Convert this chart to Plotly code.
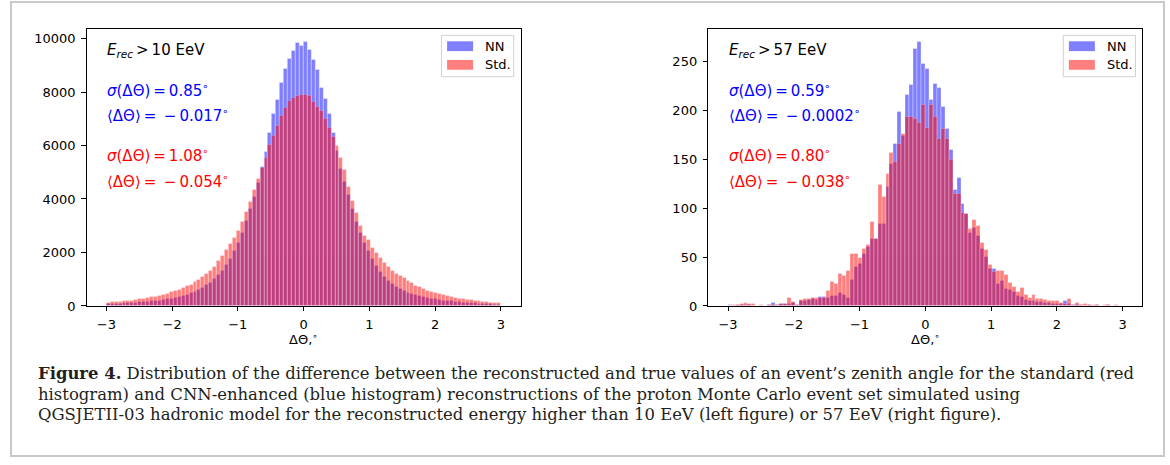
import numpy as np
import plotly.graph_objects as go

# ---------------- data ----------------
BIN_LO, BIN_HI, N_BINS = -3.0, 3.0, 100

left_nn = [70, 75, 85, 95, 100, 110, 120, 130, 140, 150,
           160, 175, 190, 205, 225, 250, 280, 310, 345, 385,
           430, 480, 540, 610, 690, 780, 880, 1000, 1150, 1330,
           1540, 1780, 2060, 2380, 2750, 3170, 3620, 4100, 4620, 5220,
           5780, 6470, 7170, 7700, 8330, 8860, 9230, 9530, 9840, 9740,
           9870, 9560, 9200, 8830, 8150, 7740, 7170, 6480, 5810, 5130,
           4640, 4150, 3650, 3150, 2750, 2380, 2050, 1760, 1500, 1280,
           1100, 950, 830, 720, 630, 560, 500, 450, 405, 365,
           330, 300, 275, 250, 230, 210, 190, 175, 160, 145,
           130, 120, 110, 100, 90, 80, 75, 70, 60, 55]

left_std = [120, 140, 155, 170, 180, 195, 210, 230, 255, 280,
            300, 330, 360, 390, 430, 470, 520, 560, 620, 680,
            740, 790, 900, 980, 1090, 1200, 1320, 1480, 1700, 1890,
            2100, 2330, 2550, 2820, 3150, 3520, 3900, 4330, 4740, 5170,
            5540, 6020, 6380, 6740, 7100, 7420, 7690, 7780, 7860, 7890,
            7880, 7840, 7640, 7460, 7310, 6980, 6650, 6320, 5970, 5540,
            5080, 4440, 3920, 3480, 3000, 2620, 2470, 2190, 1980, 1800,
            1600, 1450, 1330, 1210, 1120, 1040, 940, 850, 770, 700,
            630, 570, 520, 480, 440, 400, 370, 340, 310, 280,
            260, 240, 220, 200, 180, 160, 150, 130, 115, 100]

right_nn = [1, 0, 1, 1, 1, 1, 0, 0, 0, 0,
            1, 3, 1, 2, 2, 2, 3, 1, 5, 5,
            6, 7, 6, 9, 9, 8, 10, 10, 13, 11,
            8, 27, 40, 43, 53, 61, 69, 69, 84, 84,
            122, 145, 166, 199, 174, 216, 226, 263, 270, 248,
            243, 211, 227, 223, 204, 181, 160, 119, 131, 105,
            94, 75, 80, 72, 58, 50, 38, 38, 23, 26,
            18, 17, 14, 10, 9, 6, 5, 5, 4, 4,
            3, 3, 2, 2, 2, 5, 2, 1, 1, 1,
            0, 1, 0, 1, 0, 0, 1, 0, 0, 0]

right_std = [0, 1, 1, 2, 3, 2, 2, 0, 1, 0,
             1, 1, 1, 2, 2, 8, 4, 1, 6, 7,
             7, 8, 8, 8, 8, 15, 25, 23, 33, 31,
             36, 53, 53, 49, 58, 63, 86, 69, 124, 112,
             135, 157, 147, 166, 176, 193, 193, 191, 187, 206,
             182, 206, 193, 171, 181, 171, 150, 115, 115, 95,
             94, 79, 88, 82, 65, 57, 42, 35, 36, 36,
             32, 24, 20, 14, 19, 11, 8, 11, 7, 7,
             6, 5, 5, 5, 3, 2, 7, 1, 3, 1,
             2, 1, 1, 1, 0, 1, 1, 0, 1, 0]

x_ticks = [-3, -2, -1, 0, 1, 2, 3]
left_y_ticks = [0, 2000, 4000, 6000, 8000, 10000]
right_y_ticks = [0, 50, 100, 150, 200, 250]

series_names = ["NN", "Std."]
series_colors = ["blue", "red"]

TS, ES = "\u2009", "\u2002"
left_title = "<i>E</i><sub><i>rec</i></sub>" + TS + "&gt;" + TS + "10 EeV"
right_title = "<i>E</i><sub><i>rec</i></sub>" + TS + "&gt;" + TS + "57 EeV"
left_stats = [("<i>σ</i>(ΔΘ)" + TS + "=" + TS + "0.85<sup>∘</sup>",
               "⟨ΔΘ⟩" + TS + "=" + ES + "−" + TS + "0.017<sup>∘</sup>"),
              ("<i>σ</i>(ΔΘ)" + TS + "=" + TS + "1.08<sup>∘</sup>",
               "⟨ΔΘ⟩" + TS + "=" + ES + "−" + TS + "0.054<sup>∘</sup>")]
right_stats = [("<i>σ</i>(ΔΘ)" + TS + "=" + TS + "0.59<sup>∘</sup>",
                "⟨ΔΘ⟩" + TS + "=" + ES + "−" + TS + "0.0002<sup>∘</sup>"),
               ("<i>σ</i>(ΔΘ)" + TS + "=" + TS + "0.80<sup>∘</sup>",
                "⟨ΔΘ⟩" + TS + "=" + ES + "−" + TS + "0.038<sup>∘</sup>")]
x_label = "ΔΘ,<sup>∘</sup>"

caption_lines = [
    "<b>Figure 4.</b> Distribution of the difference between the reconstructed and true values of an event’s zenith angle for the standard (red",
    "histogram) and CNN-enhanced (blue histogram) reconstructions of the proton Monte Carlo event set simulated using",
    "QGSJETII-03 hadronic model for the reconstructed energy higher than 10 EeV (left figure) or 57 EeV (right figure).",
]

# ---------------- layout geometry (pixels) ----------------
W, H = 1170, 465
edges = np.linspace(BIN_LO, BIN_HI, N_BINS + 1)
centers = 0.5 * (edges[:-1] + edges[1:])
widths = np.diff(edges)

FONT = "DejaVu Sans"
ax_top, ax_bot = 29.3, 311.3
panels = [
    dict(x0=86.6, x1=520.5, nn=left_nn, std=left_std, yt=left_y_ticks,
         title=left_title, stats=left_stats, xa="xaxis", ya="yaxis", xr="x", yr="y"),
    dict(x0=708.3, x1=1142.3, nn=right_nn, std=right_std, yt=right_y_ticks,
         title=right_title, stats=right_stats, xa="xaxis2", ya="yaxis2", xr="x2", yr="y2"),
]

fig = go.Figure()
shapes, annotations = [], []

def py(p):  # pixel y -> paper y
    return 1 - p / H

for p in panels:
    for name, col, vals in zip(series_names, series_colors, [p["nn"], p["std"]]):
        fig.add_trace(go.Bar(
            x=centers, y=vals, width=widths, name=name,
            marker=dict(color=col, line=dict(color="rgba(255,255,255,0.55)", width=0.6)),
            opacity=0.5, xaxis=p["xr"], yaxis=p["yr"], showlegend=False,
            hoverinfo="x+y"))
    ymax = max(max(p["nn"]), max(p["std"])) * 1.05
    axis_common = dict(showline=True, linecolor="black", linewidth=1, mirror=True,
                       ticks="outside", ticklen=4.5, tickwidth=1, tickcolor="black",
                       showgrid=False, zeroline=False, tickformat="d",
                       tickfont=dict(family=FONT, size=13, color="black"))
    fig.update_layout({
        p["xa"]: dict(domain=[p["x0"] / W, p["x1"] / W], range=[-3.3, 3.3],
                      tickvals=x_ticks, anchor=p["yr"], ticklabelstandoff=2, **axis_common),
        p["ya"]: dict(domain=[py(ax_bot), py(ax_top)], range=[0, ymax],
                      tickvals=p["yt"], anchor=p["xr"], ticklabelstandoff=3, **axis_common),
    })
    xd, yd = p["xr"] + " domain", p["yr"] + " domain"
    tx = 0.043
    annotations.append(dict(text=p["title"], x=tx, y=0.92, xref=xd, yref=yd,
                            xanchor="left", yanchor="middle", showarrow=False,
                            font=dict(family=FONT, size=15, color="black")))
    for (sig, mean), col, (ys, ym) in zip(p["stats"], series_colors,
                                         [(0.779, 0.688), (0.546, 0.451)]):
        annotations.append(dict(text=sig, x=tx, y=ys, xref=xd, yref=yd,
                                xanchor="left", yanchor="middle", showarrow=False,
                                font=dict(family=FONT, size=15, color=col)))
        annotations.append(dict(text=mean, x=tx, y=ym, xref=xd, yref=yd,
                                xanchor="left", yanchor="middle", showarrow=False,
                                font=dict(family=FONT, size=15, color=col)))
    annotations.append(dict(text=x_label, x=0.5, y=py(345), xref=xd, yref="paper",
                            xanchor="center", yanchor="middle", showarrow=False,
                            font=dict(family=FONT, size=13, color="black")))
    # legend (drawn)
    ah = ax_bot - ax_top
    fx = lambda px: (px - 86.6) / 433.9
    fy = lambda pyy: (ax_bot - pyy) / ah
    shapes.append(dict(type="rect", xref=xd, yref=yd, x0=fx(441.5), x1=fx(513.7),
                       y0=fy(78), y1=fy(36), line=dict(color="#d2d2d2", width=1),
                       fillcolor="rgba(255,255,255,0.8)", layer="above"))
    for k, (name, col) in enumerate(zip(series_names, series_colors)):
        top = 42 + 19 * k
        shapes.append(dict(type="rect", xref=xd, yref=yd, x0=fx(447.1), x1=fx(473.1),
                           y0=fy(top + 10), y1=fy(top), line=dict(width=0),
                           fillcolor=col, opacity=0.5, layer="above"))
        annotations.append(dict(text=name, x=fx(483.0), y=fy(top + 5), xref=xd, yref=yd,
                                xanchor="left", yanchor="middle", showarrow=False,
                                font=dict(family=FONT, size=13, color="black")))

# outer frame
shapes.append(dict(type="rect", xref="paper", yref="paper", x0=11 / W, x1=1164 / W,
                   y0=py(464), y1=py(2), line=dict(color="#c8c8c8", width=2), layer="below"))

# caption
for k, line in enumerate(caption_lines):
    annotations.append(dict(text=line, x=37 / W, y=py(380 + 21 * k), xref="paper", yref="paper",
                            xanchor="left", yanchor="middle", showarrow=False, borderpad=0,
                            font=dict(family="DejaVu Serif", size=16.45, color="#231f20")))

fig.update_layout(width=W, height=H, margin=dict(l=0, r=0, t=0, b=0),
                  paper_bgcolor="white", plot_bgcolor="white",
                  barmode="overlay", bargap=0, showlegend=False,
                  shapes=shapes, annotations=annotations)

fig.write_html("out.html")
